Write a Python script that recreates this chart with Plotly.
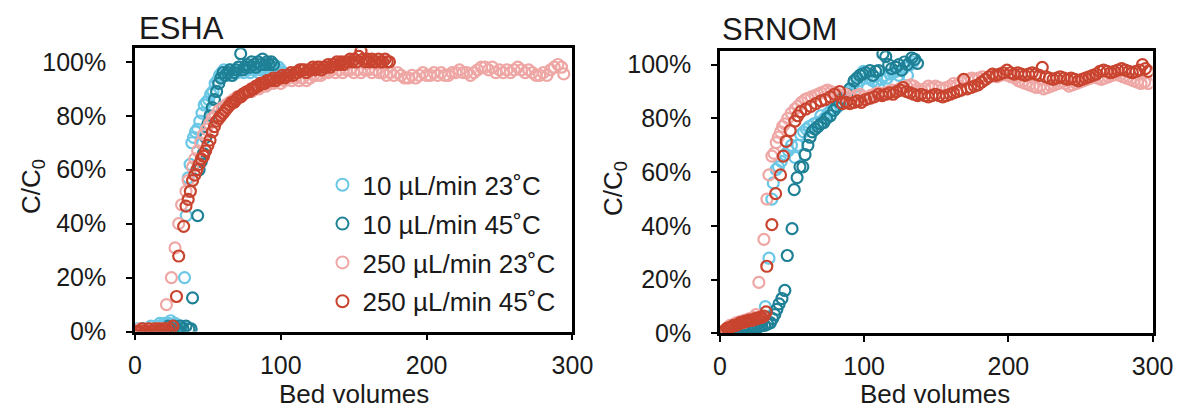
import plotly.graph_objects as go

# ---------------- ESHA breakthrough data (C/C0 vs bed volumes) ----------------
esha_10_23_bv = [0.5, 2, 3.5, 5, 6.5, 8, 9.5, 11, 12.5, 14, 15.5, 17, 18.5, 20, 21.5, 23, 24.5, 26, 27.5, 29, 30.5, 32,
                 34, 35.2, 36.5, 37.8, 39, 40.2, 41.5,
                 43, 44.5, 46, 47.5, 49, 50.5, 52, 53.5, 55, 56.5, 58, 59.5, 61, 62.5, 64, 65.5, 67, 68.5, 70, 71.5,
                 73, 74.5, 76, 77.5, 79, 80.5, 82, 83.5, 85, 86.5, 88, 89.5, 91, 92.5, 94, 95.5, 97, 98.5, 100, 101.5]
esha_10_23_c = [0.00, 0.01, 0.00, 0.01, 0.01, 0.00, 0.01, 0.02, 0.01, 0.01, 0.02, 0.03, 0.02, 0.03, 0.02, 0.03, 0.04, 0.02, 0.03, 0.02, 0.01, 0.02,
                0.20, 0.43, 0.57, 0.62, 0.70, 0.72, 0.74,
                0.75, 0.78, 0.81, 0.84, 0.85, 0.86, 0.88, 0.89, 0.92, 0.93, 0.95, 0.96, 0.97, 0.95, 0.96, 0.97, 0.95, 0.97, 0.96, 0.98,
                0.97, 0.96, 0.98, 0.97, 0.96, 0.98, 0.97, 0.98, 0.96, 0.97, 0.98, 0.97, 0.98, 0.97, 0.96, 0.98, 0.97, 0.98, 0.97, 0.96]

esha_10_45_bv = [1, 3, 5, 7, 9, 11, 13, 15, 17, 19, 21, 23, 25, 27, 29, 31, 33, 35, 37, 38.5, 39.5, 43, 44,
                 45.5, 47, 48.5, 50, 51.5, 53, 54.5, 56, 57.5, 59, 60.5, 62, 63.5, 65, 66.5, 68, 69.5, 71, 72.5,
                 74, 75.5, 77, 78.5, 80, 81.5, 83, 84.5, 86, 87.5, 89, 90.5, 92, 93.5, 95]
esha_10_45_c = [0.00, 0.00, 0.01, 0.00, 0.01, 0.00, 0.01, 0.01, 0.00, 0.01, 0.01, 0.02, 0.01, 0.02, 0.01, 0.02, 0.01, 0.02, 0.01, 0.01, 0.125, 0.43, 0.60,
                0.63, 0.66, 0.72, 0.77, 0.80, 0.83, 0.86, 0.89, 0.92, 0.94, 0.96, 0.95, 0.96, 0.97, 0.95, 0.96, 0.97, 0.98, 1.03,
                0.97, 0.98, 0.99, 0.98, 1.00, 0.99, 0.98, 1.00, 0.99, 1.01, 0.99, 1.00, 0.99, 1.00, 0.99]

esha_250_23_bv = [0.5, 2, 3.5, 5, 6.5, 8, 9.5, 11, 12.5, 14, 15.5, 17, 18.5, 20,
                  21.6, 25, 27.5, 30, 32, 35, 36.5, 39.5, 41, 43, 45, 47, 49, 51, 53, 55, 57.5, 60, 62.5, 65, 67.5,
                  70, 72.5, 75, 77.5, 80, 82.5, 85, 87.5, 90, 92.5, 95, 97.5, 100, 102.5, 105, 107.5, 110, 112.5,
                  115, 117.5, 120, 122.5, 125, 127.5, 130, 132.5, 135, 137.5, 140, 142.5, 145, 147.5, 150, 152.5,
                  155, 157.5, 160, 162.5, 165, 167.5, 170, 172.5, 175, 177.5, 180, 182.5, 185, 187.5, 190, 192.5,
                  195, 197.5, 200, 202.5, 205, 207.5, 210, 212.5, 215, 217.5, 220, 222.5, 225, 227.5, 230, 232.5,
                  235, 237.5, 240, 242.5, 245, 247.5, 250, 252.5, 255, 257.5, 260, 262.5, 265, 267.5, 270, 272.5,
                  275, 277.5, 280, 282.5, 285, 287.5, 290, 292.5, 294]
esha_250_23_c = [0.00, 0.00, 0.01, 0.00, 0.00, 0.01, 0.00, 0.01, 0.00, 0.01, 0.01, 0.00, 0.01, 0.01,
                 0.10, 0.20, 0.31, 0.40, 0.47, 0.52, 0.56, 0.61, 0.64, 0.67, 0.70, 0.73, 0.75, 0.77, 0.79, 0.80, 0.82, 0.83, 0.84, 0.85, 0.86,
                 0.87, 0.87, 0.88, 0.89, 0.89, 0.90, 0.90, 0.91, 0.91, 0.92, 0.92, 0.93, 0.92, 0.93, 0.94, 0.93, 0.94, 0.93,
                 0.94, 0.93, 0.94, 0.95, 0.95, 0.95, 0.96, 0.96, 0.97, 0.96, 0.97, 0.96, 0.97, 0.97, 0.96, 0.97,
                 0.96, 0.97, 0.97, 0.96, 0.97, 0.96, 0.96, 0.95, 0.96, 0.95, 0.96, 0.95, 0.94, 0.94, 0.95, 0.94,
                 0.95, 0.96, 0.95, 0.95, 0.96, 0.95, 0.96, 0.95, 0.95, 0.96, 0.96, 0.97, 0.96, 0.96, 0.95, 0.96,
                 0.97, 0.98, 0.98, 0.97, 0.98, 0.96, 0.97, 0.96, 0.97, 0.96, 0.97, 0.98, 0.97, 0.96, 0.97, 0.96,
                 0.95, 0.95, 0.96, 0.95, 0.97, 0.98, 0.99, 0.98, 0.955]

esha_250_45_bv = [0.5, 2, 3.5, 5, 6.5, 8, 9.5, 11, 12.5, 14, 15.5, 17, 18.5, 20, 21.5, 23, 24.5, 26,
                  28.5, 30, 33.4, 35, 36.5, 38, 39.5, 41, 42.5, 44, 45.5, 47, 48.5, 50, 51.5, 53, 54.5, 56, 57.5,
                  59, 60.5, 62, 63.5, 65, 66.5, 68, 69.5, 71, 72.5, 74, 75.5, 77, 78.5, 80, 81.5, 83, 84.5, 86,
                  87.5, 89, 90.5, 92, 93.5, 95, 96.5, 98, 99.5, 101, 102.5, 104, 105.5, 107, 108.5, 110, 111.5,
                  113, 114.5, 116, 117.5, 119, 120.5, 122, 123.5, 125, 126.5, 128, 129.5, 131, 132.5, 134, 135.5,
                  137, 138.5, 140, 141.5, 143, 144.5, 146, 147.5, 149, 150.5, 152, 153.5, 155, 156.5, 158, 159.5,
                  161, 162.5, 164, 165.5, 167, 168.5, 170, 171.5, 173, 174.5]
esha_250_45_c = [0.00, 0.00, 0.00, 0.01, 0.00, 0.00, 0.01, 0.00, 0.00, 0.01, 0.00, 0.01, 0.00, 0.01, 0.01, 0.00, 0.01, 0.02,
                 0.13, 0.28, 0.39, 0.465, 0.49, 0.52, 0.56, 0.58, 0.60, 0.62, 0.64, 0.65, 0.67, 0.69, 0.71, 0.74, 0.76, 0.78, 0.79,
                 0.80, 0.81, 0.82, 0.83, 0.84, 0.85, 0.85, 0.86, 0.87, 0.87, 0.88, 0.885, 0.89, 0.89, 0.90, 0.90, 0.91, 0.91, 0.92,
                 0.92, 0.92, 0.93, 0.93, 0.93, 0.94, 0.93, 0.94, 0.94, 0.95, 0.94, 0.95, 0.95, 0.96, 0.95, 0.96, 0.96,
                 0.97, 0.97, 0.97, 0.96, 0.97, 0.97, 0.98, 0.97, 0.98, 0.98, 0.97, 0.98, 0.98, 0.99, 0.98, 0.99,
                 0.99, 1.00, 0.99, 1.00, 0.99, 1.00, 1.00, 1.01, 1.00, 1.01, 1.00, 1.02, 1.04, 1.01, 1.00, 1.01,
                 1.00, 1.01, 1.00, 1.00, 1.01, 1.00, 1.00, 1.01, 1.00, 1.00]

# ---------------- SRNOM breakthrough data ----------------
srnom_10_23_bv = [1, 3, 5, 7, 9, 11, 13, 15, 17, 19, 21, 23, 25, 27, 29, 31.5,
                  34, 36, 37, 39, 40.6, 42.5, 45, 47.5, 49.6, 52, 54, 56, 58, 60, 62, 65, 67.7, 70, 72.5, 75,
                  77, 79, 81, 83, 86, 88, 90, 92.7, 95, 97, 99.5, 101.5, 104, 106, 108, 110, 112, 114,
                  116, 118, 120, 122, 124, 126, 128, 130, 132, 134]
srnom_10_23_c = [0.00, 0.005, 0.01, 0.01, 0.015, 0.02, 0.02, 0.025, 0.025, 0.03, 0.03, 0.035, 0.03, 0.04, 0.04, 0.10,
                 0.28, 0.50, 0.56, 0.61, 0.62, 0.64, 0.665, 0.68, 0.70, 0.655, 0.70, 0.74, 0.75, 0.76, 0.77, 0.78, 0.785, 0.81, 0.80, 0.82,
                 0.83, 0.835, 0.84, 0.85, 0.88, 0.87, 0.90, 0.93, 0.92, 0.94, 0.975, 0.95, 0.95, 0.94, 0.935, 0.92, 0.945, 0.96,
                 0.95, 0.965, 0.97, 0.975, 0.96, 0.98, 0.99, 0.96, 1.00, 1.01]

srnom_10_45_bv = [1, 3, 5, 7, 9, 11, 13, 15, 17, 19, 21, 23, 25, 27, 29, 31, 33, 35, 36.5, 38, 39.5, 41, 43, 45,
                  46.7, 50, 51.5, 53.5, 55.5, 57.5, 59, 61, 62.5, 64, 66, 68, 70, 72, 74, 76.5, 79, 81, 83, 85,
                  88, 90, 93, 95, 97, 99, 101, 104, 106, 108, 110, 113, 115, 117, 119, 122, 124, 126, 128, 130,
                  133, 135, 137]
srnom_10_45_c = [0.00, 0.00, 0.005, 0.01, 0.01, 0.01, 0.015, 0.015, 0.02, 0.02, 0.02, 0.025, 0.02, 0.025, 0.03, 0.03, 0.035, 0.04, 0.055, 0.07, 0.09, 0.11, 0.13, 0.16,
                 0.29, 0.39, 0.535, 0.58, 0.62, 0.62, 0.665, 0.70, 0.73, 0.75, 0.76, 0.77, 0.78, 0.785, 0.80, 0.81, 0.83, 0.845, 0.86, 0.875,
                 0.89, 0.91, 0.94, 0.95, 0.96, 0.965, 0.97, 0.978, 0.96, 0.975, 0.978, 1.04, 1.03, 1.00, 0.985, 0.99, 1.00, 0.98, 1.01, 1.00,
                 1.025, 1.02, 1.005]

srnom_250_23_bv = [1, 2.5, 4, 5.5, 7, 8.5, 10, 11.5, 13, 14.5, 16, 17.5, 19, 20.5, 22, 23.5, 25,
                   27, 30.5, 32.6, 34, 36, 37.5, 39, 40.5, 42, 43.5, 45, 47, 49.5, 52, 54, 56.5, 59, 61, 63.5,
                   66, 68, 70, 72.5, 74.5, 77, 79.5, 82, 84.5, 87, 89.5, 92, 94.5, 97, 99.5, 102, 104.5, 107,
                   109.5, 112, 114.5, 117, 119.5, 122, 124.5, 127, 129.5, 132, 134.5, 137, 139.5, 142, 144.5, 147,
                   149.5, 152, 154.5, 157, 159.5, 162, 164.5, 167, 169.5, 172, 174.5, 177, 179.5, 182, 184.5, 187,
                   189.5, 192, 194.5, 197, 199.5, 202, 204.5, 207, 209.5, 212, 214.5, 217, 219.5, 222, 224.5, 227,
                   229.5, 232, 234.5, 237, 239.5, 242, 244.5, 247, 249.5, 252, 254.5, 257, 259.5, 262, 264.5, 267,
                   269.5, 272, 274.5, 277, 279.5, 282, 284.5, 287, 289.5, 292, 294.5, 297, 299.5]
srnom_250_23_c = [0.00, 0.01, 0.015, 0.02, 0.03, 0.03, 0.035, 0.04, 0.04, 0.045, 0.04, 0.05, 0.05, 0.055, 0.05, 0.06, 0.07,
                  0.19, 0.35, 0.50, 0.59, 0.66, 0.67, 0.71, 0.73, 0.75, 0.77, 0.78, 0.80, 0.82, 0.835, 0.845, 0.86, 0.87, 0.875, 0.88,
                  0.885, 0.89, 0.895, 0.90, 0.905, 0.90, 0.895, 0.89, 0.885, 0.89, 0.88, 0.875, 0.885, 0.89, 0.88, 0.875, 0.885, 0.89,
                  0.895, 0.89, 0.895, 0.90, 0.905, 0.90, 0.91, 0.915, 0.92, 0.925, 0.92, 0.91, 0.905, 0.91, 0.92, 0.915,
                  0.92, 0.915, 0.91, 0.915, 0.92, 0.93, 0.925, 0.935, 0.94, 0.945, 0.95, 0.945, 0.95, 0.955, 0.945, 0.955,
                  0.96, 0.955, 0.96, 0.965, 0.96, 0.955, 0.95, 0.94, 0.935, 0.93, 0.925, 0.92, 0.915, 0.92, 0.91, 0.915,
                  0.92, 0.925, 0.93, 0.935, 0.93, 0.92, 0.925, 0.93, 0.935, 0.94, 0.945, 0.95, 0.955, 0.95, 0.945,
                  0.95, 0.955, 0.96, 0.965, 0.96, 0.955, 0.95, 0.945, 0.94, 0.935, 0.93, 0.935, 0.93]

srnom_250_45_bv = [0.5, 2, 3.5, 5, 6.5, 8, 9.5, 11, 12.5, 14, 15.5, 17, 18.5, 20, 21.5, 23, 24.5, 26, 27.5, 29, 30.5,
                   32, 32.5, 36, 38.6, 42, 44, 46, 48.7, 52, 54, 56, 59.5, 63, 66.5, 70, 73, 76.5, 79.5, 83,
                   85, 87.5, 90, 93, 95.5, 98, 101, 104, 107, 110, 112.5, 115, 117.5, 120, 122.5, 125, 127, 129.5,
                   132, 134.5, 137, 139.5, 142, 144.5, 147, 149.5, 152, 154.5, 157, 159.5, 162, 164.5, 167, 169,
                   171.5, 174, 176.5, 179, 181.5, 184, 186.5, 189, 191.5, 194, 196.5, 199, 201.5, 204, 206.5, 209,
                   211.5, 214, 216.5, 219, 221.5, 223.5, 226, 228.5, 231, 233.5, 236, 238.5, 241, 243.5, 246, 248.5,
                   251, 253.5, 256, 258.5, 261, 263.5, 266, 268.5, 271, 273.5, 276, 278.5, 281, 283.5, 286, 288.5,
                   291, 293, 295, 297]
srnom_250_45_c = [0.00, 0.005, 0.01, 0.02, 0.02, 0.025, 0.03, 0.03, 0.035, 0.04, 0.04, 0.045, 0.045, 0.05, 0.05, 0.05, 0.055, 0.055, 0.06, 0.06, 0.065,
                  0.08, 0.25, 0.405, 0.52, 0.59, 0.66, 0.715, 0.755, 0.79, 0.81, 0.825, 0.835, 0.845, 0.855, 0.865, 0.87, 0.88, 0.89, 0.90,
                  0.855, 0.86, 0.855, 0.86, 0.865, 0.86, 0.87, 0.875, 0.88, 0.89, 0.885, 0.89, 0.895, 0.89, 0.90, 0.905, 0.915, 0.90,
                  0.895, 0.89, 0.885, 0.89, 0.885, 0.88, 0.885, 0.89, 0.885, 0.88, 0.885, 0.89, 0.895, 0.90, 0.905, 0.945,
                  0.91, 0.915, 0.92, 0.925, 0.935, 0.945, 0.955, 0.965, 0.96, 0.965, 0.97, 0.98, 0.97, 0.965, 0.97, 0.965,
                  0.96, 0.965, 0.97, 0.965, 0.96, 0.99, 0.955, 0.95, 0.945, 0.95, 0.955, 0.95, 0.945, 0.95, 0.945, 0.94,
                  0.945, 0.95, 0.955, 0.96, 0.965, 0.975, 0.98, 0.975, 0.97, 0.975, 0.98, 0.985, 0.98, 0.975, 0.97, 0.975,
                  0.98, 1.00, 0.985, 0.975]

series_names = ["10 µL/min 23˚C", "10 µL/min 45˚C", "250 µL/min 23˚C", "250 µL/min 45˚C"]
series_colors = ["#6BC7E6", "#1F8196", "#EEA7A4", "#C9442F"]
panel_titles = ["ESHA", "SRNOM"]
y_ticks = [0, 0.2, 0.4, 0.6, 0.8, 1.0]
x_ticks = [0, 100, 200, 300]

esha = [(esha_10_23_bv, esha_10_23_c), (esha_10_45_bv, esha_10_45_c),
        (esha_250_23_bv, esha_250_23_c), (esha_250_45_bv, esha_250_45_c)]
srnom = [(srnom_10_23_bv, srnom_10_23_c), (srnom_10_45_bv, srnom_10_45_c),
         (srnom_250_23_bv, srnom_250_23_c), (srnom_250_45_bv, srnom_250_45_c)]

FONT = "Liberation Sans, Arial, sans-serif"
TEXT = "#1a1a1a"

fig = go.Figure()

for panel, (data, xa, ya) in enumerate([(esha, "x", "y"), (srnom, "x2", "y2")]):
    for i, (bv, c) in enumerate(data):
        fig.add_trace(go.Scatter(
            x=bv, y=c, mode="markers", xaxis=xa, yaxis=ya,
            name=series_names[i], legendgroup=f"g{i}", showlegend=(panel == 0),
            marker=dict(symbol="circle-open", size=11, color=series_colors[i],
                        line=dict(width=2.2, color=series_colors[i])),
        ))

axis_common = dict(showline=True, linecolor="black", linewidth=2.5, mirror=True,
                   ticks="outside", ticklen=6, tickwidth=2, tickcolor="black",
                   showgrid=False, zeroline=False,
                   tickfont=dict(family=FONT, size=25, color=TEXT))

fig.update_layout(
    width=1198, height=419,
    margin=dict(l=0, r=0, t=0, b=0),
    paper_bgcolor="white", plot_bgcolor="white",
    font=dict(family=FONT, color=TEXT),
    xaxis=dict(domain=[131 / 1198, 579 / 1198], range=[0, 300], tickvals=x_ticks, anchor="y",
               ticklabelstandoff=4, **axis_common),
    yaxis=dict(domain=[1 - 343 / 419, 1 - 50 / 419], range=[0, 1.05], tickvals=y_ticks, tickformat=".0%",
               anchor="x", ticklabelstandoff=15, **axis_common),
    xaxis2=dict(domain=[730 / 1198, 1173 / 1198], range=[0, 300], tickvals=x_ticks, anchor="y2",
                ticklabelstandoff=3, **axis_common),
    yaxis2=dict(domain=[1 - 345 / 419, 1 - 53 / 419], range=[0, 1.05], tickvals=y_ticks, tickformat=".0%",
                anchor="x2", ticklabelstandoff=15, **axis_common),
    legend=dict(x=323 / 1198, y=1 - 167 / 419, xanchor="left", yanchor="top",
                bgcolor="rgba(0,0,0,0)", tracegroupgap=2,
                font=dict(family=FONT, size=26, color=TEXT), itemsizing="constant"),
    showlegend=True,
)

annotations = [
    dict(text=panel_titles[0], x=133 / 1198, y=1 - 29 / 419, xanchor="left", yanchor="middle", font=dict(size=31)),
    dict(text=panel_titles[1], x=730 / 1198, y=1 - 31 / 419, xanchor="left", yanchor="middle", font=dict(size=31)),
    dict(text="Bed volumes", x=355 / 1198, y=1 - 408 / 419, xanchor="center", yanchor="middle", font=dict(size=26)),
    dict(text="Bed volumes", x=950 / 1198, y=1 - 408 / 419, xanchor="center", yanchor="middle", font=dict(size=26)),
    dict(text="C/C<sub>0</sub>", x=26 / 1198, y=1 - 193 / 419, xanchor="center", yanchor="middle", textangle=-90, font=dict(size=26)),
    dict(text="C/C<sub>0</sub>", x=622 / 1198, y=1 - 195 / 419, xanchor="center", yanchor="middle", textangle=-90, font=dict(size=26)),
]
for a in annotations:
    a.update(xref="paper", yref="paper", showarrow=False)
    a["font"].update(family=FONT, color=TEXT)
fig.update_layout(annotations=annotations)

fig.write_html("out.html")
